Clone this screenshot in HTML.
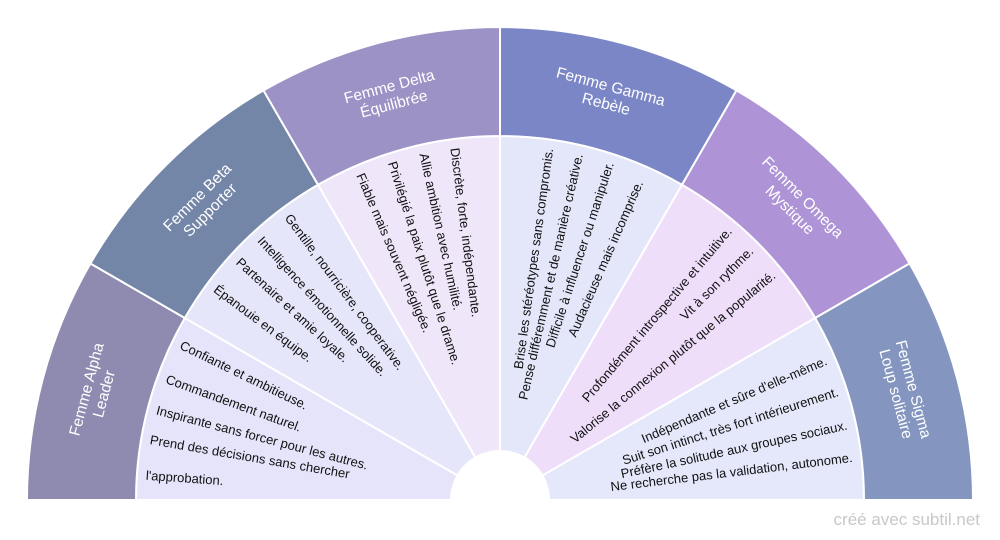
<!DOCTYPE html>
<html><head><meta charset="utf-8"><style>
html,body{margin:0;padding:0;background:#fff;width:1000px;height:540px;overflow:hidden}
svg{display:block;font-family:"Liberation Sans",sans-serif}
.t{font-size:13px;fill:#111;dominant-baseline:central}
.o{font-size:15.5px;fill:#fff;text-anchor:middle}
</style></head><body>
<svg width="1000" height="540" viewBox="0 0 1000 540">
<g stroke="#fff" stroke-width="2">
<path d="M500 500 L136 500 A364 364 0 0 1 184.8 318 Z" fill="#e6e4fa"/>
<path d="M500 500 L184.8 318 A364 364 0 0 1 318 184.8 Z" fill="#e6e6fa"/>
<path d="M500 500 L318 184.8 A364 364 0 0 1 500 136 Z" fill="#f0e6fa"/>
<path d="M500 500 L500 136 A364 364 0 0 1 682 184.8 Z" fill="#e4e6fa"/>
<path d="M500 500 L682 184.8 A364 364 0 0 1 815.2 318 Z" fill="#efdefa"/>
<path d="M500 500 L815.2 318 A364 364 0 0 1 864 500 Z" fill="#e4e8fa"/>
<path d="M27 500 A473 473 0 0 1 90.4 263.5 L184.8 318 A364 364 0 0 0 136 500 Z" fill="#8e8ab0"/>
<path d="M90.4 263.5 A473 473 0 0 1 263.5 90.4 L318 184.8 A364 364 0 0 0 184.8 318 Z" fill="#7486a8"/>
<path d="M263.5 90.4 A473 473 0 0 1 500 27 L500 136 A364 364 0 0 0 318 184.8 Z" fill="#9d92c6"/>
<path d="M500 27 A473 473 0 0 1 736.5 90.4 L682 184.8 A364 364 0 0 0 500 136 Z" fill="#7b86c6"/>
<path d="M736.5 90.4 A473 473 0 0 1 909.6 263.5 L815.2 318 A364 364 0 0 0 682 184.8 Z" fill="#ae94d6"/>
<path d="M909.6 263.5 A473 473 0 0 1 973 500 L864 500 A364 364 0 0 0 815.2 318 Z" fill="#8496c0"/>
</g>
<circle cx="500" cy="500" r="50" fill="#fff"/>

<g class="o">
<text transform="translate(95.3,391.6) rotate(-75)"><tspan x="0" dy="-4">Femme Alpha</tspan><tspan x="0" dy="18">Leader</tspan></text>
<text transform="translate(203.7,203.7) rotate(-45)"><tspan x="0" dy="-4">Femme Beta</tspan><tspan x="0" dy="18">Supporter</tspan></text>
<text transform="translate(391.6,95.3) rotate(-15)"><tspan x="0" dy="-4">Femme Delta</tspan><tspan x="0" dy="18">Équilibrée</tspan></text>
<text transform="translate(608.4,95.3) rotate(15)"><tspan x="0" dy="-4">Femme Gamma</tspan><tspan x="0" dy="18">Rebèle</tspan></text>
<text transform="translate(796.3,203.7) rotate(45)"><tspan x="0" dy="-4">Femme Omega</tspan><tspan x="0" dy="18">Mystique</tspan></text>
<text transform="translate(904.7,391.6) rotate(75)"><tspan x="0" dy="-4">Femme Sigma</tspan><tspan x="0" dy="18">Loup solitaire</tspan></text>
</g>

<g class="t">
<text transform="translate(180.9,344.4) rotate(26)">Confiante et ambitieuse.</text>
<text transform="translate(166.4,378.6) rotate(20)">Commandement naturel.</text>
<text transform="translate(156.6,409.9) rotate(14.7)">Inspirante sans forcer pour les autres.</text>
<text transform="translate(150.2,439.6) rotate(9.8)">Prend des décisions sans chercher</text>
<text transform="translate(145.9,475.2) rotate(4)">l'approbation.</text>

<text transform="translate(287.8,215.4) rotate(53.3)">Gentille, nourricière, cooperative.</text>
<text transform="translate(260.2,238.3) rotate(47.5)">Intelligence émotionnelle solide.</text>
<text transform="translate(238.3,260.2) rotate(42.5)">Partenaire et amie loyale.</text>
<text transform="translate(215.4,287.8) rotate(36.7)">Épanouie en équipe.</text>

<text transform="translate(454.9,147.9) rotate(82.7)">Discrète, forte, indépendante.</text>
<text transform="translate(423.8,153.3) rotate(77.6)">Allie ambition avec humilité.</text>
<text transform="translate(392.1,161.8) rotate(72.3)">Privilégié la paix plutôt que le drame.</text>
<text transform="translate(360.2,173.7) rotate(66.8)">Fiable mais souvent négligée.</text>
</g>
<g class="t" text-anchor="end">
<text transform="translate(548.8,148.4) rotate(-82.1)">Brise les stéréotypes sans compromis.</text>
<text transform="translate(578.6,153.8) rotate(-77.2)">Pense différemment et de manière créative.</text>
<text transform="translate(609.7,162.4) rotate(-72)">Difficile à influencer ou manipuler.</text>
<text transform="translate(639.3,181.1) rotate(-66.4)">Audacieuse mais incomprise.</text>

<text transform="translate(729.2,228.9) rotate(-49.8)">Profondément introspective et intuitive.</text>
<text transform="translate(751,249) rotate(-45)">Vit à son rythme.</text>
<text transform="translate(773.5,273.7) rotate(-39.6)">Valorise la connexion plutôt que la popularité.</text>

<text transform="translate(826.3,360.2) rotate(-23.2)">Indépendante et sûre d'elle-même.</text>
<text transform="translate(838,391.5) rotate(-17.8)">Suit son intinct, très fort intérieurement.</text>
<text transform="translate(847,425) rotate(-12.2)">Préfère la solitude aux groupes sociaux.</text>
<text transform="translate(852.4,457.4) rotate(-6.9)">Ne recherche pas la validation, autonome.</text>
</g>

<text x="980" y="525" text-anchor="end" font-size="17" fill="#c8c8c8">créé avec subtil.net</text>
</svg>
</body></html>
